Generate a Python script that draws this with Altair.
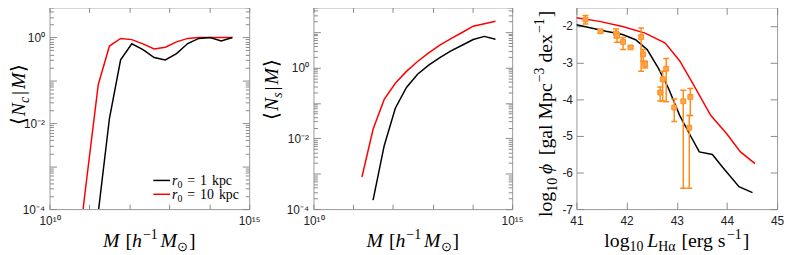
import json
import altair as alt
import pandas as pd

# ---------------- data ----------------
# halo-mass grid (log10 M)
log_mass = [10.66, 10.94, 11.22, 11.50, 11.78, 12.06, 12.34, 12.62, 12.90,
            13.18, 13.46, 13.74, 14.02, 14.30, 14.58]
# <N_c|M>
nc_r1 = [None, None, 8.3e-5, 0.0129, 0.30, 0.71, 0.52, 0.34, 0.30,
         0.42, 0.72, 0.95, 1.0, 0.83, 1.0]
nc_r10 = [4.0e-6, 5.9e-4, 0.079, 0.63, 0.95, 0.89, 0.71, 0.54, 0.59,
          0.79, 0.95, 1.0, 1.0, 1.0, 1.0]
# <N_s|M>
ns_r1 = [None, None, None, 1.8e-4, 6.2e-3, 0.071, 0.275, 0.65, 1.17,
         1.9, 2.95, 4.27, 6.2, 7.6, 6.3]
ns_r10 = [None, None, 8.1e-4, 0.018, 0.126, 0.36, 0.78, 1.48, 2.6,
          4.3, 6.6, 9.8, 14.8, 17.4, 20.4]

# H-alpha luminosity function
lha_r1 = [41.0, 41.59, 41.92, 42.18, 42.41, 42.63, 42.83, 43.06, 43.29,
          43.45, 43.71, 43.91, 44.24, 44.51]
phi_r1 = [-1.97, -2.15, -2.24, -2.38, -2.65, -3.15, -3.69, -4.45, -5.04,
          -5.44, -5.51, -5.85, -6.39, -6.55]
lha_r10 = [41.0, 41.46, 41.92, 42.37, 42.77, 43.06, 43.29, 43.68, 44.0,
           44.27, 44.56]
phi_r10 = [-1.78, -1.88, -2.02, -2.20, -2.47, -2.96, -3.50, -4.45, -4.95,
           -5.44, -5.76]
# observations
obs_l = [41.18, 41.48, 41.79, 41.81, 41.93, 42.08, 42.29, 42.33, 42.37,
         42.67, 42.72, 42.79, 42.95, 43.13, 43.25, 43.27]
obs_phi = [-1.83, -2.15, -2.21, -2.27, -2.44, -2.59, -2.31, -2.78, -3.05,
           -3.82, -3.46, -3.17, -4.23, -4.06, -4.78, -3.94]
obs_lo = [-1.95, -2.19, -2.33, -2.45, -2.65, -2.63, -3.24, -2.97, -3.15,
          -4.05, -4.05, -4.07, -4.61, -6.43, -6.43, -4.45]
obs_hi = [-1.72, -2.11, -2.09, -2.20, -2.32, -2.55, -2.06, -2.65, -2.97,
          -3.67, -3.24, -2.89, -4.00, -3.76, -4.45, -3.71]

# tick labels
mass_label_values = [1e10, 1e15]
mass_label_texts = ["10¹⁰", "10¹⁵"]
n_label_values = [1e-4, 1e-2, 1.0]
n_label_texts = ["10⁻⁴", "10⁻²", "10⁰"]
lha_label_values = [41, 42, 43, 44, 45]
lha_label_texts = ["41", "42", "43", "44", "45"]
phi_label_values = [-7, -6, -5, -4, -3, -2]
phi_label_texts = ["-7", "-6", "-5", "-4", "-3", "-2"]
legend_values = ["1", "10"]

# ---------------- styling ----------------
W1, W2, W3, H = 202, 201, 203, 204
XTITLE_BASE = 242
FRAME = "#9a9a9a"
TICKC = "#8a8a8a"
SANS = "Liberation Sans"
SERIF = "Liberation Serif"
ORANGE = "#ff8c1a"
ORANGE_FILL = "#ffa64d"
MAJOR_TEST = "abs(log(datum.value)/LN10 - round(log(datum.value)/LN10)) < 0.001"

R = {' ': 250, '[': 333, ']': 333, '|': 200, '=': 564, '−': 564, '-': 333,
     'a': 444, 'c': 444, 'd': 500, 'e': 444, 'g': 500, 'k': 500, 'l': 278,
     'o': 500, 'p': 500, 'r': 333, 's': 389, 'x': 500, 'M': 889, 'H': 722,
     'α': 520, '⟨': 390, '⟩': 390, '⊙': 780}
I = {'M': 833, 'N': 667, 'h': 500, 'r': 389, 'L': 556, 'c': 444, 's': 389,
     'ϕ': 600}


def est_width(t, size, italic):
    tbl = I if italic else R
    return sum(tbl.get(ch, 500) for ch in t) / 1000.0 * size


ONE = pd.DataFrame({"k": [0]})


def compose(pieces, x0, y0, vertical=False, center=False):
    offs, s = [], 0.0
    for t, size, it, gap, sh in pieces:
        s += gap
        offs.append(s)
        s += est_width(t, size, it)
    start = -s / 2 if center else 0.0
    out = []
    for (t, size, it, gap, sh), o in zip(pieces, offs):
        if vertical:
            px, py = x0 - sh, y0 - (start + o)
        else:
            px, py = x0 + start + o, y0 - sh
        out.append(
            alt.Chart(ONE).mark_text(
                text=t, font=SERIF, fontSize=size,
                fontStyle="italic" if it else "normal",
                align="left", baseline="alphabetic",
                angle=270 if vertical else 0, color="black",
            ).encode(x=alt.value(px), y=alt.value(py))
        )
    return out


def label_expr(values, labels):
    return (f"{json.dumps(labels, ensure_ascii=False)}"
            f"[indexof({json.dumps(values)}, datum.value)]")


def label_axis(orient, values, labels, pad):
    return alt.Axis(orient=orient, values=values,
                    labelExpr=label_expr(values, labels), ticks=False,
                    domain=False, grid=False, title=None, labelFont=SANS,
                    labelFontSize=12, labelColor="#222222", labelPadding=pad,
                    labelFlush=False, labelOverlap=False)


def tick_axis(orient, offset, values, test=None, major=7, minor=4):
    size = major if test is None else {"condition": {"test": test, "value": major},
                                       "value": minor}
    return alt.Axis(orient=orient, offset=offset, values=values, labels=False,
                    domain=False, grid=False, title=None, ticks=True,
                    tickSize=size, tickColor=TICKC, tickWidth=1)


def log_vals(top):
    vals = []
    for k in range(-4, 2):
        for m in range(1, 10):
            v = float(f"{m}e{k}")
            if v <= top * 1.0001:
                vals.append(v)
    return vals


mass_tick_values = [1e10, 1e11, 1e12, 1e13, 1e14, 1e15]


def frame_layers(df, xf, yf, xs, ys, W, xvals, yvals, ytest, xsize):
    a = alt.Chart(df).mark_point(opacity=0, clip=True).encode(
        x=alt.X(xf, scale=xs, axis=tick_axis("top", -H, xvals, None, xsize)),
        y=alt.Y(yf, scale=ys, axis=tick_axis("right", -W, yvals, ytest)))
    b = alt.Chart(df).mark_point(opacity=0, clip=True).encode(
        x=alt.X(xf, scale=xs, axis=tick_axis("bottom", -H, xvals, None, xsize)),
        y=alt.Y(yf, scale=ys, axis=tick_axis("left", -W, yvals, ytest)))
    return [a, b]


def mass_df(vals):
    rows = [(10 ** m, v) for m, v in zip(log_mass, vals) if v is not None]
    return pd.DataFrame(rows, columns=["M", "N"])


xs_m = alt.Scale(type="log", domain=[1e10, 1e15], nice=False)


def hod_panel(vals_r1, vals_r10, ytop, W, ytitle_pieces, ytitle_x, ytitle_y, legend=False):
    ys = alt.Scale(type="log", domain=[1e-4, ytop], nice=False)
    d1, d10 = mass_df(vals_r1), mass_df(vals_r10)
    red = alt.Chart(d10).mark_line(color="#ff0000", strokeWidth=1.5, clip=True).encode(
        x=alt.X("M:Q", scale=xs_m, axis=label_axis("bottom", mass_label_values, mass_label_texts, 7)),
        y=alt.Y("N:Q", scale=ys, axis=label_axis("left", n_label_values, n_label_texts, 5)))
    black = alt.Chart(d1).mark_line(color="#000000", strokeWidth=1.5, clip=True).encode(
        x=alt.X("M:Q", scale=xs_m, axis=None),
        y=alt.Y("N:Q", scale=ys, axis=None))
    layers = [red, black]
    layers += frame_layers(d10, "M:Q", "N:Q", xs_m, ys, W, mass_tick_values,
                           log_vals(ytop), MAJOR_TEST, 5)
    layers += compose([("M", 20, True, 0, 0), ("[", 20, False, 6, 0),
                       ("h", 20, True, 0, 0), ("−1", 14, False, 1, 8),
                       ("M", 20, True, 3, 0), ("⊙", 13, False, 0, -4),
                       ("]", 20, False, 2, 0)], W / 2, XTITLE_BASE, center=True)
    layers += compose(ytitle_pieces, ytitle_x, ytitle_y, vertical=True, center=True)
    if legend:
        for i, (lab, col) in enumerate(zip(legend_values, ["#000000", "#ff0000"])):
            yy = 175 + 14 * i
            layers.append(alt.Chart(ONE).mark_rule(color=col, strokeWidth=1.5).encode(
                x=alt.value(105), x2=alt.value(122), y=alt.value(yy)))
            layers += compose([("r", 14, True, 0, 0), ("0", 10, False, 0, -3),
                               ("=", 14, False, 5, 0), (lab, 14, False, 5, 0),
                               ("kpc", 14, False, 5, 0)], 124, yy + 4.5)
    return alt.layer(*layers).resolve_axis(x="independent", y="independent").properties(
        width=W, height=H)


p1 = hod_panel(nc_r1, nc_r10, 5.0, W1,
               [("⟨", 20, False, 0, 0), ("N", 20, True, 1, 0), ("c", 14, True, 0, -4),
                ("|", 20, False, 2, 0), ("M", 20, True, 2, 0), ("⟩", 20, False, 1, 0)],
               -25, 88, legend=True)
p2 = hod_panel(ns_r1, ns_r10, 50.0, W2,
               [("⟨", 20, False, 0, 0), ("N", 20, True, 1, 0), ("s", 14, True, 0, -4),
                ("|", 20, False, 2, 0), ("M", 20, True, 2, 0), ("⟩", 20, False, 1, 0)],
               -36, 83)

# ---------------- panel 3 ----------------
xs3 = alt.Scale(domain=[41, 45], nice=False, zero=False)
ys3 = alt.Scale(domain=[-7, -1.5], nice=False, zero=False)
lf1 = pd.DataFrame({"L": lha_r1, "phi": phi_r1})
lf10 = pd.DataFrame({"L": lha_r10, "phi": phi_r10})
obs = pd.DataFrame({"L": obs_l, "phi": obs_phi, "lo": obs_lo, "hi": obs_hi})

red3 = alt.Chart(lf10).mark_line(color="#ff0000", strokeWidth=1.5, clip=True).encode(
    x=alt.X("L:Q", scale=xs3, axis=label_axis("bottom", lha_label_values, lha_label_texts, 7)),
    y=alt.Y("phi:Q", scale=ys3, axis=label_axis("left", phi_label_values, phi_label_texts, 4)))
black3 = alt.Chart(lf1).mark_line(color="#000000", strokeWidth=1.5, clip=True).encode(
    x=alt.X("L:Q", scale=xs3, axis=None), y=alt.Y("phi:Q", scale=ys3, axis=None))
err = alt.Chart(obs).mark_rule(color=ORANGE, strokeWidth=1.5, clip=True).encode(
    x=alt.X("L:Q", scale=xs3, axis=None), y=alt.Y("lo:Q", scale=ys3, axis=None),
    y2=alt.Y2("hi:Q"))
cap_lo = alt.Chart(obs).mark_rule(color=ORANGE, strokeWidth=1.5, xOffset=-3, x2Offset=3,
                                  clip=True).encode(
    x=alt.X("L:Q", scale=xs3, axis=None), x2=alt.X2("L:Q"),
    y=alt.Y("lo:Q", scale=ys3, axis=None))
cap_hi = alt.Chart(obs).mark_rule(color=ORANGE, strokeWidth=1.5, xOffset=-3, x2Offset=3,
                                  clip=True).encode(
    x=alt.X("L:Q", scale=xs3, axis=None), x2=alt.X2("L:Q"),
    y=alt.Y("hi:Q", scale=ys3, axis=None))
pts = alt.Chart(obs).mark_square(size=24, filled=True, fill=ORANGE_FILL, stroke=ORANGE,
                                 strokeWidth=1, opacity=1, clip=True).encode(
    x=alt.X("L:Q", scale=xs3, axis=None), y=alt.Y("phi:Q", scale=ys3, axis=None))

layers3 = [red3, black3, err, cap_lo, cap_hi, pts]
layers3 += frame_layers(lf1, "L:Q", "phi:Q", xs3, ys3, W3, lha_label_values,
                        phi_label_values, None, 7)
layers3 += compose([("log", 20, False, 0, 0), ("10", 14, False, 0, -4),
                    ("L", 20, True, 4, 0), ("Hα", 14, False, 0, -4),
                    ("[erg s", 20, False, 6, 0), ("−1", 14, False, 1, 8),
                    ("]", 20, False, 1, 0)], W3 / 2, XTITLE_BASE, center=True)
layers3 += compose([("log", 20, False, 0, 0), ("10", 14, False, 0, -5),
                    ("ϕ", 20, True, 4, 0), ("[gal Mpc", 20, False, 7, 0),
                    ("−3", 14, False, 1, 8), ("dex", 20, False, 5, 0),
                    ("−1", 14, False, 1, 8), ("]", 20, False, 1, 0)],
                   -25, 212, vertical=True)
p3 = alt.layer(*layers3).resolve_axis(x="independent", y="independent").properties(
    width=W3, height=H)

chart = alt.hconcat(p1, p2, p3, spacing=65, bounds="flush",
                    padding={"left": 0, "top": -3, "right": 0, "bottom": 0},
                    background="white").configure_view(stroke=FRAME, strokeWidth=1)

chart.save("out.html", embed_options={"renderer": "svg", "actions": False})
